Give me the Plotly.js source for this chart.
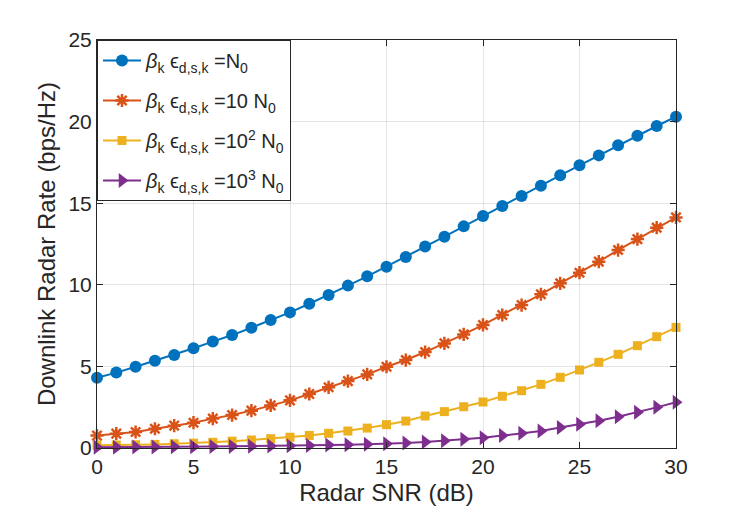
<!DOCTYPE html>
<html>
<head>
<meta charset="utf-8">
<script src="https://cdn.plot.ly/plotly-3.0.1.min.js"></script>
<style>
  html, body { margin: 0; padding: 0; background: #fff; }
  #chart { width: 747px; height: 515px; }
</style>
</head>
<body>
<div id="chart"></div>
<script>
// Radar SNR (dB)
const snr = [0, 1, 2, 3, 4, 5, 6, 7, 8, 9, 10, 11, 12, 13, 14, 15, 16, 17, 18, 19, 20, 21, 22, 23, 24, 25, 26, 27, 28, 29, 30];

// downlink radar rate (bps/Hz)
const rateN0 = [4.31, 4.62, 4.98, 5.35, 5.70, 6.11, 6.52, 6.92, 7.37, 7.84, 8.31, 8.84, 9.37, 9.95, 10.52, 11.11,
  11.71, 12.34, 12.95, 13.58, 14.22, 14.83, 15.44, 16.07, 16.71, 17.32, 17.93, 18.55, 19.14, 19.73, 20.30];
const rate10N0 = [0.76, 0.88, 0.98, 1.18, 1.37, 1.55, 1.80, 2.02, 2.29, 2.61, 2.92, 3.31, 3.72, 4.10, 4.51, 4.98,
  5.39, 5.88, 6.41, 6.96, 7.54, 8.15, 8.76, 9.42, 10.09, 10.74, 11.42, 12.13, 12.80, 13.50, 14.13];
const rate100N0 = [0.17, 0.18, 0.20, 0.22, 0.26, 0.30, 0.35, 0.42, 0.49, 0.57, 0.66, 0.77, 0.90, 1.04, 1.22, 1.43,
  1.65, 1.96, 2.23, 2.53, 2.82, 3.17, 3.51, 3.90, 4.33, 4.78, 5.25, 5.74, 6.27, 6.82, 7.39];
const rate1000N0 = [0.05, 0.05, 0.06, 0.06, 0.07, 0.08, 0.09, 0.10, 0.11, 0.12, 0.14, 0.16, 0.18, 0.20, 0.23, 0.26,
  0.30, 0.37, 0.45, 0.53, 0.63, 0.76, 0.90, 1.04, 1.25, 1.45, 1.67, 1.92, 2.19, 2.49, 2.80];

const names = [
  '<i>β</i><sub>k</sub> ϵ<sub>d,s,k</sub> =N<sub>0</sub>',
  '<i>β</i><sub>k</sub> ϵ<sub>d,s,k</sub> =10 N<sub>0</sub>',
  '<i>β</i><sub>k</sub> ϵ<sub>d,s,k</sub> =10<sup>2</sup> N<sub>0</sub>',
  '<i>β</i><sub>k</sub> ϵ<sub>d,s,k</sub> =10<sup>3</sup> N<sub>0</sub>',
];

const axisColor = '#262626';
const gridColor = 'rgba(38,38,38,0.12)';

const data = [
  {
    x: snr, y: rateN0, name: names[0], legendgroup: 'a', mode: 'lines+markers', cliponaxis: false,
    line: { color: '#0072BD', width: 2 },
    marker: { symbol: 'circle', size: 12, color: '#0072BD' },
  },
  {
    x: snr, y: rate10N0, name: names[1], legendgroup: 'b', mode: 'lines+markers', cliponaxis: false,
    line: { color: '#D95319', width: 2 },
    marker: { symbol: 'asterisk-open', size: 11, color: '#D95319', line: { color: '#D95319', width: 2.5 } },
  },
  {
    x: snr, y: rate100N0, name: names[2], legendgroup: 'c', mode: 'lines+markers', cliponaxis: false,
    line: { color: '#EDB120', width: 2 },
    marker: { symbol: 'square', size: 9, color: '#EDB120' },
  },
  {
    x: snr, y: rate1000N0, name: names[3], legendgroup: 'd', mode: 'lines+markers', cliponaxis: false,
    line: { color: '#7E2F8E', width: 2 },
    marker: { symbol: 'triangle-right', size: 13, color: '#7E2F8E' },
  },
];

const layout = {
  width: 747,
  height: 515,
  margin: { l: 97, r: 71, t: 40, b: 67 },
  paper_bgcolor: '#fff',
  plot_bgcolor: '#fff',
  font: { family: '"Liberation Sans", Arial, sans-serif', color: axisColor, size: 20 },
  showlegend: true,
  xaxis: {
    range: [0, 30],
    tickvals: [0, 5, 10, 15, 20, 25, 30],
    ticks: 'inside',
    ticklen: 6,
    tickcolor: axisColor,
    showline: true,
    linecolor: axisColor,
    linewidth: 1,
    mirror: 'ticks',
    showgrid: true,
    gridcolor: gridColor,
    zeroline: false,
    tickfont: { size: 21, color: axisColor },
    title: { text: 'Radar SNR (dB)', font: { size: 24, color: axisColor }, standoff: 6 },
  },
  yaxis: {
    range: [0, 25],
    tickvals: [0, 5, 10, 15, 20, 25],
    ticks: 'inside',
    ticklen: 6,
    tickcolor: axisColor,
    showline: true,
    linecolor: axisColor,
    linewidth: 1,
    mirror: 'ticks',
    showgrid: true,
    gridcolor: gridColor,
    zeroline: false,
    tickfont: { size: 21, color: axisColor },
    title: { text: 'Downlink Radar Rate (bps/Hz)', font: { size: 24, color: axisColor }, standoff: 6 },
  },
  legend: {
    x: 0,
    y: 1,
    xanchor: 'left',
    yanchor: 'top',
    bgcolor: '#fff',
    bordercolor: axisColor,
    borderwidth: 1,
    font: { size: 20, color: axisColor },
    tracegroupgap: 11,
    itemwidth: 38,
  },
};

Plotly.newPlot('chart', data, layout, { displayModeBar: false, staticPlot: true });
</script>
</body>
</html>
